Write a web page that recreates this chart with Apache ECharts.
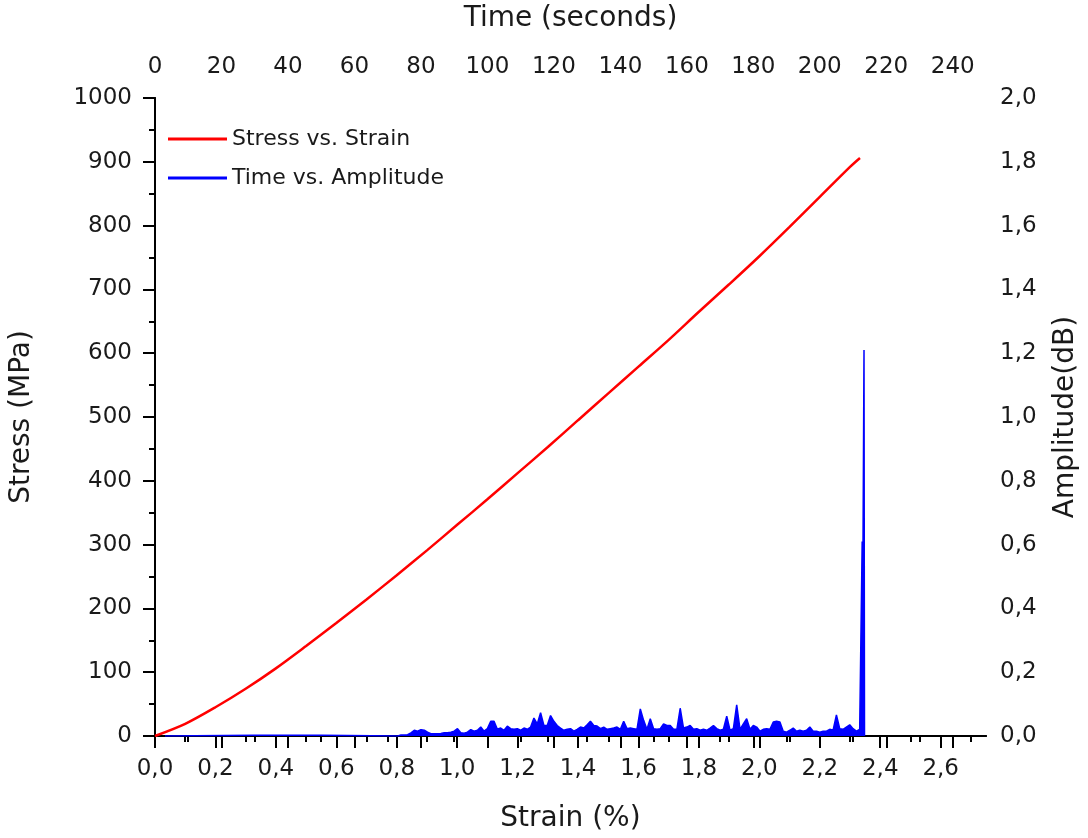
<!DOCTYPE html>
<html>
<head>
<meta charset="utf-8">
<script src="https://cdn.jsdelivr.net/npm/echarts@6/dist/echarts.min.js"></script>
<style>
html,body{margin:0;padding:0;background:#fff;}
#c{width:1088px;height:838px;}
</style>
</head>
<body>
<div id="c"></div>
<script>
// Stress vs. Strain (red)
const strain = [0,0.1,0.2,0.3,0.4,0.5,0.6,0.7,0.8,0.9,1.0,1.1,1.2,1.3,1.4,1.5,1.6,1.7,1.8,1.9,2.0,2.1,2.2,2.3,2.333];
const stress = [0,19,45,74,106,141,177,214,252,291,331,371,412,453,495,537,579,621,665,708,752,798,845,892,906];

// Time vs. Amplitude (blue)
const time = [3,30,50,73,
  74,75,76,77,78,79,80,81,82,83,84,85,86,87,88,89,90,91,92,93,94,95,96,97,98,99,
  100,101,102,103,104,105,106,107,108,109,110,111,112,113,114,115,116,117,118,119,
  120,121,122,123,124,125,126,127,128,129,130,131,132,133,134,135,136,137,138,139,
  140,141,142,143,144,145,146,147,148,149,150,151,152,153,154,155,156,157,158,159,
  160,161,162,163,164,165,166,167,168,169,170,171,172,173,174,175,176,177,178,179,
  180,181,182,183,184,185,186,187,188,189,190,191,192,193,194,195,196,197,198,199,
  200,201,202,203,204,205,206,207,208,209,210,211,212,212.6,212.75,212.85,213.3,213.45];
const amplitude = [0,0.002,0.002,0,
  0.003,0.003,0.004,0.010,0.018,0.015,0.020,0.018,0.012,0.007,0.007,0.007,0.008,0.010,0.010,0.012,0.015,0.023,0.010,0.009,0.012,0.020,0.015,0.018,0.028,0.015,
  0.023,0.046,0.046,0.021,0.025,0.018,0.031,0.023,0.021,0.023,0.018,0.025,0.021,0.028,0.056,0.038,0.073,0.033,0.033,0.064,
  0.046,0.033,0.025,0.018,0.021,0.023,0.015,0.021,0.028,0.025,0.035,0.046,0.033,0.031,0.023,0.028,0.021,0.023,0.025,0.028,
  0.021,0.046,0.023,0.025,0.023,0.021,0.085,0.049,0.021,0.054,0.023,0.021,0.023,0.038,0.033,0.033,0.021,0.021,0.087,0.025,
  0.028,0.033,0.021,0.023,0.018,0.021,0.018,0.025,0.033,0.023,0.018,0.021,0.062,0.018,0.023,0.098,0.021,0.038,0.054,0.021,
  0.033,0.028,0.015,0.021,0.023,0.021,0.044,0.046,0.044,0.015,0.012,0.018,0.025,0.015,0.018,0.015,0.018,0.028,0.015,0.015,
  0.012,0.015,0.015,0.021,0.018,0.066,0.023,0.021,0.028,0.035,0.023,0.015,0.021,0.020,0.61,0.30,1.21,0];

// Tick values (major ticks carry labels)
const strainMajor = [0,0.2,0.4,0.6,0.8,1.0,1.2,1.4,1.6,1.8,2.0,2.2,2.4,2.6];
const strainMinor = [0.1,0.3,0.5,0.7,0.9,1.1,1.3,1.5,1.7,1.9,2.1,2.3,2.5,2.7];
const timeMajor = [0,20,40,60,80,100,120,140,160,180,200,220,240];
const timeMinor = [10,30,50,70,90,110,130,150,170,190,210,230];
const stressMajor = [0,100,200,300,400,500,600,700,800,900,1000];
const stressMinor = [50,150,250,350,450,550,650,750,850,950];
const ampMajor = [0,0.2,0.4,0.6,0.8,1.0,1.2,1.4,1.6,1.8,2.0];
const ampMinor = [0.1,0.3,0.5,0.7,0.9,1.1,1.3,1.5,1.7,1.9];

const FONT = 'DejaVu Sans';
const comma = v => v.toFixed(1).replace('.', ',');
const lab = {fontFamily: FONT, fontSize: 23, color: '#1a1a1a'};
const line = {show: true, lineStyle: {color: '#000', width: 2}};
const nameStyle = {fontFamily: FONT, fontSize: 28, color: '#1a1a1a'};

function minorAxis(base, vals, inside) {
  return Object.assign({}, base, {
    name: '', axisLine: {show: false}, axisLabel: {show: false}, splitLine: {show: false},
    axisTick: {show: true, inside: inside, length: 6, lineStyle: {color: '#000', width: 2}, customValues: vals}
  });
}

const bottomBase = {type: 'value', position: 'bottom', min: 0, max: 2.75, interval: 0.2, gridIndex: 0};
const topBase = {type: 'value', position: 'top', min: 0, max: 250, interval: 20, gridIndex: 0};
const leftBase = {type: 'value', position: 'left', min: 0, max: 1000, interval: 100, gridIndex: 0};
const rightBase = {type: 'value', position: 'right', min: 0, max: 2, interval: 0.2, gridIndex: 0};

const chart = echarts.init(document.getElementById('c'), null, {renderer: 'canvas'});
chart.setOption({
  animation: false,
  backgroundColor: '#fff',
  grid: {left: 153, right: 94, top: 97, bottom: 99, containLabel: false},
  legend: {
    left: 163, top: 123, orient: 'vertical', icon: 'rect', itemWidth: 59, itemHeight: 3,
    itemGap: 17, textStyle: {fontFamily: FONT, fontSize: 22, color: '#1a1a1a', lineHeight: 22},
    data: ['Stress vs. Strain', 'Time vs. Amplitude']
  },
  xAxis: [
    Object.assign({}, bottomBase, {
      name: 'Strain (%)', nameLocation: 'middle', nameGap: 69, nameTextStyle: nameStyle,
      axisLine: line, splitLine: {show: false},
      axisTick: {show: true, inside: false, length: 12, lineStyle: {color: '#000', width: 2}, customValues: strainMajor},
      axisLabel: Object.assign({}, lab, {margin: 22, formatter: comma, customValues: strainMajor})
    }),
    Object.assign({}, topBase, {
      name: 'Time (seconds)', nameLocation: 'middle', nameGap: 65, nameTextStyle: nameStyle,
      axisLine: line, splitLine: {show: false},
      axisTick: {show: true, inside: true, length: 12, lineStyle: {color: '#000', width: 2}, customValues: timeMajor},
      axisLabel: Object.assign({}, lab, {margin: 19, formatter: v => String(v), customValues: timeMajor})
    }),
    minorAxis(bottomBase, strainMinor, false),
    minorAxis(topBase, timeMinor, true)
  ],
  yAxis: [
    Object.assign({}, leftBase, {
      name: 'Stress (MPa)', nameLocation: 'middle', nameGap: 119, nameTextStyle: nameStyle,
      axisLine: line, splitLine: {show: false},
      axisTick: {show: true, inside: false, length: 12, lineStyle: {color: '#000', width: 2}, customValues: stressMajor},
      axisLabel: Object.assign({}, lab, {margin: 23, formatter: v => String(v), customValues: stressMajor})
    }),
    Object.assign({}, rightBase, {
      name: 'Amplitude(dB)', nameLocation: 'middle', nameGap: 66, nameTextStyle: nameStyle,
      axisLine: line, splitLine: {show: false},
      axisTick: {show: true, inside: true, length: 12, lineStyle: {color: '#000', width: 2}, customValues: ampMajor},
      axisLabel: Object.assign({}, lab, {margin: 14, formatter: comma, customValues: ampMajor})
    }),
    minorAxis(leftBase, stressMinor, false),
    minorAxis(rightBase, ampMinor, true)
  ],
  series: [
    {
      name: 'Time vs. Amplitude', type: 'line', xAxisIndex: 1, yAxisIndex: 1,
      data: time.map((t, i) => [t, amplitude[i]]),
      showSymbol: false, color: '#0000ff',
      lineStyle: {color: '#0000ff', width: 1.5},
      areaStyle: {color: '#0000ff', opacity: 1},
      z: 2
    },
    {
      name: 'Stress vs. Strain', type: 'line', xAxisIndex: 0, yAxisIndex: 0,
      data: strain.map((s, i) => [s, stress[i]]),
      showSymbol: false, smooth: 0.3, color: '#ff0000',
      lineStyle: {color: '#ff0000', width: 2.5},
      z: 3
    }
  ]
});
</script>
</body>
</html>
